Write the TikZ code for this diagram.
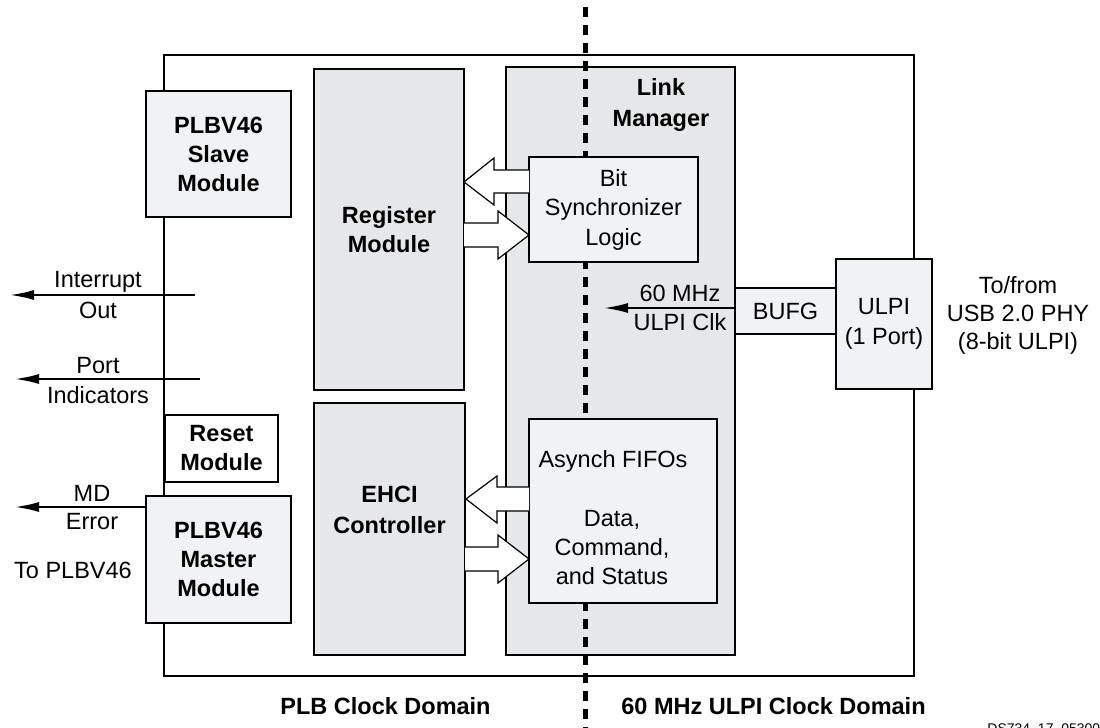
\documentclass[tikz,border=0pt]{standalone}
\usepackage{fontspec}
\setmainfont{Liberation Sans}
\usetikzlibrary{arrows.meta}
\definecolor{boxmid}{RGB}{230,231,233}
\definecolor{boxlight}{RGB}{241,242,244}
\begin{document}
\begin{tikzpicture}[x=0.5pt,y=-0.5pt,
  every node/.style={font=\fontsize{11.75}{14.5}\selectfont, inner sep=0pt},
  blk/.style={draw, line width=1.3pt, inner sep=0pt, align=center,
    font=\fontsize{11.75}{14.5}\selectfont\bfseries},
  lbl/.style={align=center},
  blbl/.style={align=center, font=\fontsize{11.75}{15.5}\selectfont\bfseries},
  sig/.style={line width=1pt, -{Latex[length=12pt,width=5pt]}},
  bigarrow/.style={draw, line width=0.6pt, fill=white, line join=miter},
  domline/.style={line width=2.5pt, dash pattern=on 5pt off 4pt}]
\useasboundingbox (0,0) rectangle (1100,728);
\clip (0,0) rectangle (1100,728);

% outer frame
\node[draw, line width=1.3pt, minimum width=375pt, minimum height=310.5pt] (outer) at (539,365.5) {};

% large modules
\node[blk, fill=boxmid, minimum width=75pt, minimum height=160.5pt] (reg) at (389,229.5) {Register\\Module};
\node[blk, fill=boxmid, minimum width=75.5pt, minimum height=126pt] (ehci) at (389.5,529) {};
\node[blbl] (ehcilab) at (389.5,510) {EHCI\\Controller};
\node[blk, fill=boxmid, minimum width=114.5pt, minimum height=294pt] (lm) at (620.5,361) {};
\node[blbl] (lmlab) at (661,105) {Link\\Manager};

% clock domain boundary
\coordinate (dtop) at (585,7);
\coordinate (dbot) at (585,745);
\draw[domline] (dtop) -- (dbot);

% left modules
\node[blk, fill=boxlight, minimum width=72.5pt, minimum height=63pt] (slave) at (218.5,154) {PLBV46\\Slave\\Module};
\node[blk, fill=white, minimum width=56.5pt, minimum height=33.5pt] (reset) at (221.5,448.5) {Reset\\Module};
\node[blk, fill=boxlight, minimum width=72.5pt, minimum height=63.5pt] (master) at (218.5,559.5) {PLBV46\\Master\\Module};

% link manager internals
\node[blk, fill=boxlight, font=\fontsize{11.75}{14.75}\selectfont, minimum width=84.5pt, minimum height=52.5pt] (bitsync) at (613.5,209.5) {Bit\\Synchronizer\\Logic};
\node[blk, fill=boxlight, minimum width=94pt, minimum height=92pt] (async) at (623,511) {};
\node[lbl] (asy1) at (613,461) {Asynch FIFOs};
\node[lbl] (asy2) at (612,548) {Data,\\Command,\\and Status};

% BUFG and ULPI
\node[blk, fill=boxlight, font=\fontsize{11.75}{14.5}\selectfont, minimum width=50.5pt, minimum height=23pt] (bufg) at (785.5,311) {BUFG};
\node[blk, fill=boxlight, font=\fontsize{11.75}{15}\selectfont, minimum width=48pt, minimum height=65pt] (ulpi) at (884,324) {ULPI\\(1 Port)};
\node[lbl, font=\fontsize{11.75}{14}\selectfont] (phy) at (1018,315) {To/from\\USB 2.0 PHY\\(8-bit ULPI)};

% clock arrow
\coordinate (clkend) at (604,308);
\draw[sig] (bufg.west |- clkend) -- (clkend);
\node[lbl] (clk1) at (680,293) {60 MHz};
\node[lbl] (clk2) at (680,322) {ULPI Clk};

% block arrows, bit synchronizer
\draw[bigarrow] (529,170) -- (494,170) -- (494,158) -- (464,182) -- (494,205) -- (494,193) -- (529,193);
\draw[bigarrow] (464,223) -- (498,223) -- (498,211) -- (529,235) -- (498,259) -- (498,247) -- (464,247);
% block arrows, async FIFOs
\draw[bigarrow] (529,487) -- (497,487) -- (497,476) -- (466,499) -- (497,523) -- (497,511) -- (529,511);
\draw[bigarrow] (465,547) -- (498,547) -- (498,535) -- (529,559) -- (498,583) -- (498,571) -- (465,571);

% left side signals
\coordinate (intbeg) at (195,295);
\coordinate (intend) at (10,295);
\draw[sig] (intbeg) -- (intend);
\node[lbl] (int1) at (98,282) {Interrupt};
\node[lbl] (int2) at (98,310) {Out};
\coordinate (portbeg) at (200,379);
\coordinate (portend) at (15,379);
\draw[sig] (portbeg) -- (portend);
\node[lbl] (port1) at (98,366) {Port};
\node[lbl] (port2) at (98,395) {Indicators};
\coordinate (mdend) at (15,507);
\draw[sig] (master.west |- mdend) -- (mdend);
\node[lbl] (md1) at (92,493) {MD};
\node[lbl] (md2) at (92,522) {Error};
\node[lbl] (toplb) at (73,570) {To PLBV46};

% domain labels
\node[anchor=west, font=\fontsize{11.75}{14}\selectfont\bfseries] (plbdom) at (280,706) {PLB Clock Domain};
\node[anchor=west, font=\fontsize{11.75}{14}\selectfont\bfseries] (ulpidom) at (621,706) {60 MHz ULPI Clock Domain};
\node[anchor=base west, font=\fontsize{7}{8}\selectfont] (dsid) at (987,733) {DS734\_17\_053008};
\end{tikzpicture}
\end{document}
